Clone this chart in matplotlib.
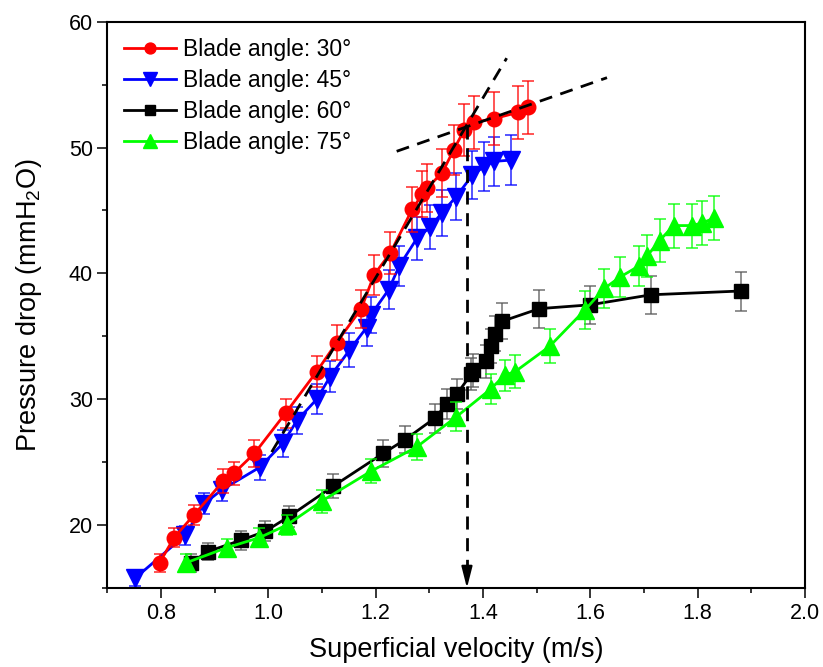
import matplotlib
matplotlib.use("Agg")
import matplotlib.pyplot as plt
from matplotlib.ticker import MultipleLocator

plt.rcParams["font.family"] = ["Liberation Sans", "DejaVu Sans"]
plt.rcParams["mathtext.default"] = "regular"

# Blade angle 30
x30 = [0.797, 0.824, 0.861, 0.916, 0.935, 0.974, 1.032, 1.090, 1.127, 1.173, 1.197,
       1.227, 1.268, 1.287, 1.296, 1.324, 1.345, 1.365, 1.383, 1.421, 1.466, 1.483]
y30 = [17.0, 19.0, 20.8, 23.5, 24.1, 25.7, 28.9, 32.2, 34.5, 37.2, 39.9,
       41.6, 45.1, 46.3, 46.8, 48.0, 49.8, 51.4, 52.0, 52.3, 52.8, 53.2]
e30 = [0.7, 0.75, 0.8, 0.95, 0.95, 1.05, 1.15, 1.25, 1.4, 1.5, 1.6,
       1.65, 1.8, 1.85, 1.9, 1.9, 2.0, 2.05, 2.1, 2.1, 2.1, 2.1]

# Blade angle 45
x45 = [0.752, 0.845, 0.880, 0.913, 0.984, 1.027, 1.053, 1.090, 1.115, 1.151, 1.183,
       1.191, 1.224, 1.244, 1.277, 1.302, 1.323, 1.350, 1.380, 1.402, 1.420, 1.452]
y45 = [15.8, 19.2, 21.7, 22.8, 24.6, 26.5, 28.3, 30.0, 31.8, 33.9, 35.7,
       36.7, 38.7, 40.6, 42.8, 43.7, 44.8, 46.1, 47.8, 48.5, 48.9, 49.0]
e45 = [0.65, 0.75, 0.85, 0.9, 1.0, 1.05, 1.1, 1.2, 1.25, 1.35, 1.45,
       1.45, 1.55, 1.6, 1.7, 1.75, 1.8, 1.85, 1.9, 1.95, 1.95, 2.0]

# Blade angle 60
x60 = [0.855, 0.887, 0.949, 0.994, 1.039, 1.121, 1.214, 1.255, 1.310, 1.332, 1.351,
       1.378, 1.381, 1.406, 1.415, 1.422, 1.436, 1.505, 1.599, 1.713, 1.880]
y60 = [17.0, 17.9, 18.8, 19.5, 20.7, 23.1, 25.7, 26.8, 28.5, 29.6, 30.4,
       32.0, 32.3, 33.0, 34.2, 35.2, 36.2, 37.2, 37.5, 38.3, 38.6]
e60 = [0.7, 0.7, 0.75, 0.8, 0.85, 0.95, 1.05, 1.05, 1.15, 1.2, 1.2,
       1.3, 1.3, 1.3, 1.35, 1.4, 1.45, 1.5, 1.5, 1.5, 1.55]

# Blade angle 75
x75 = [0.846, 0.922, 0.983, 1.034, 1.099, 1.192, 1.276, 1.350, 1.414, 1.440, 1.460,
       1.524, 1.590, 1.626, 1.655, 1.691, 1.706, 1.729, 1.755, 1.789, 1.808, 1.831]
y75 = [17.0, 18.2, 19.0, 20.0, 21.9, 24.3, 26.2, 28.6, 30.8, 31.9, 32.2,
       34.2, 37.1, 38.8, 39.7, 40.6, 41.4, 42.6, 43.8, 43.8, 44.0, 44.4]
e75 = [0.7, 0.7, 0.75, 0.8, 0.9, 0.95, 1.05, 1.15, 1.2, 1.25, 1.3,
       1.35, 1.5, 1.55, 1.6, 1.6, 1.65, 1.7, 1.75, 1.75, 1.75, 1.75]

# guide lines (tangent lines and the critical velocity)
steep_x = [1.006, 1.444]
steep_y = [25.8, 57.1]
flat_x = [1.239, 1.631]
flat_y = [49.7, 55.55]
v_crit = 1.37
p_crit = 51.7

fig = plt.figure(figsize=(8.23, 6.67), dpi=100)
ax = fig.add_axes([0.1306, 0.1184, 0.8475, 0.8491])

series = [
    (x45, y45, e45, "#0000ff", "v", 12.5, "Blade angle: 45°"),
    (x30, y30, e30, "#ff0000", "o", 10.5, "Blade angle: 30°"),
    (x60, y60, e60, "black", "s", 9.5, "Blade angle: 60°"),
    (x75, y75, e75, "#00ff00", "^", 12.5, "Blade angle: 75°"),
]
handles = {}
for xs, ys, es, c, m, ms, lab in series:
    ecol = "0.35" if c == "black" else c
    ax.errorbar(xs, ys, yerr=es, fmt="none", ecolor=ecol, elinewidth=1.1,
                capsize=4.5, capthick=1.1, alpha=0.85)
    ln, = ax.plot(xs, ys, color=c, lw=2, marker=m, ms=ms, label=lab)
    handles[lab] = ln

dash = (4.7, 3.1)
ax.plot(steep_x, steep_y, color="k", lw=2, dashes=dash, zorder=5)
ax.plot(flat_x, flat_y, color="k", lw=2, dashes=dash, zorder=5)
ax.plot([v_crit, v_crit], [p_crit, 16.4], color="k", lw=2, dashes=dash, zorder=5)
ax.annotate("", xy=(v_crit, 15.0), xytext=(v_crit, 16.5),
            arrowprops=dict(arrowstyle="-|>,head_length=1.3,head_width=0.33",
                            color="k", lw=1.5, shrinkA=0, shrinkB=0,
                            mutation_scale=10),
            annotation_clip=False, zorder=6)

ax.set_xlim(0.7, 2.0)
ax.set_ylim(15, 60)
ax.xaxis.set_major_locator(MultipleLocator(0.2))
ax.xaxis.set_minor_locator(MultipleLocator(0.1))
ax.yaxis.set_major_locator(MultipleLocator(10))
ax.yaxis.set_minor_locator(MultipleLocator(5))
ax.set_xticks([0.8, 1.0, 1.2, 1.4, 1.6, 1.8, 2.0])
ax.set_xticklabels(["0.8", "1.0", "1.2", "1.4", "1.6", "1.8", "2.0"])
ax.tick_params(which="major", direction="out", length=7, width=1.1, labelsize=15.5)
ax.tick_params(which="minor", direction="out", length=3.6, width=1.1)
for s in ax.spines.values():
    s.set_linewidth(1.5)

ax.set_xlabel("Superficial velocity (m/s)", fontsize=19.5, labelpad=10)
ax.set_ylabel("Pressure drop (mmH$_2$O)", fontsize=19.5, labelpad=18)

order = ["Blade angle: 30°", "Blade angle: 45°", "Blade angle: 60°", "Blade angle: 75°"]
ax.legend([handles[k] for k in order], order, loc="upper left", frameon=False,
          fontsize=16.5, handlelength=2.3, handletextpad=0.3, labelspacing=0.35,
          markerscale=0.75, borderaxespad=0.3, borderpad=0.4)

fig.savefig("out.png", dpi=100)
